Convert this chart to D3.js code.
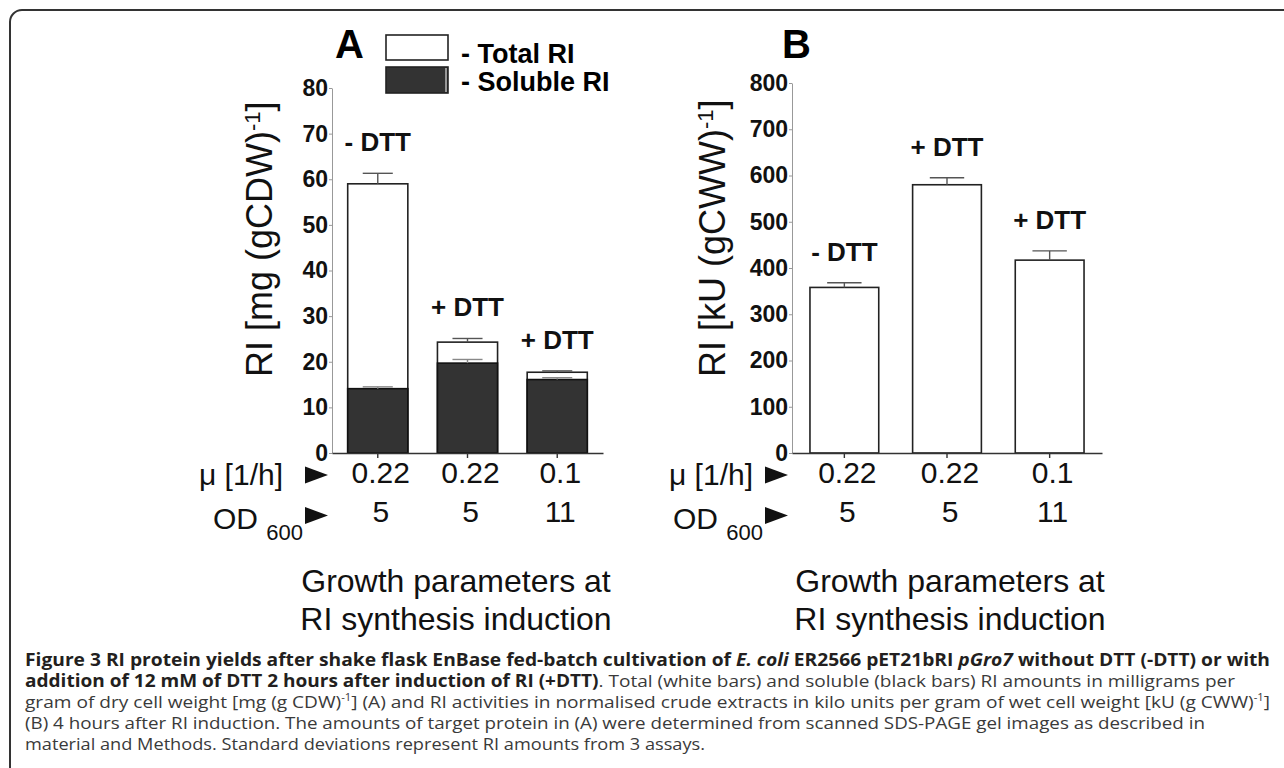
<!DOCTYPE html>
<meta charset="utf-8">
<head>
<style>
  body { margin: 0; background: #fff; }
  svg text { font-family: "Liberation Sans", Arial, sans-serif; }
  .cap { font-family: "Open Sans", sans-serif; font-size: 17px; }
</style>
</head>
<body>
<script src="https://d3js.org/d3.v7.min.js"></script>
<script>
  // data
  var muValues = ["0.22", "0.22", "0.1"];
  var odValues = ["5", "5", "11"];

  var dttA = ["- DTT", "+ DTT", "+ DTT"];
  var totalA = [59.0, 24.3, 17.7];
  var totalAErr = [2.3, 0.8, 0.3];
  var solubleA = [14.1, 19.7, 16.1];
  var solubleAErr = [0.4, 0.8, 0.4];
  var ticksA = [0, 10, 20, 30, 40, 50, 60, 70, 80];

  var dttB = ["- DTT", "+ DTT", "+ DTT"];
  var activityB = [358, 580, 417];
  var activityBErr = [10, 15, 20];
  var ticksB = [0, 100, 200, 300, 400, 500, 600, 700, 800];

  var dark = "#333";

  var svg = d3.select("body").append("svg")
    .attr("width", 1284)
    .attr("height", 768);

  // frame, rounded at top-left only
  svg.append("path")
    .attr("d", "M10,768 V22 A12,12 0 0 1 22,10 H1284")
    .attr("fill", "none")
    .attr("stroke", dark)
    .attr("stroke-width", 2);

  function drawPanel(p) {
    var x = d3.scaleBand().domain([0, 1, 2])
      .range([p.x0, p.x1]).paddingInner(0.33).paddingOuter(0.175);
    var y = d3.scaleLinear().domain([0, p.max]).range([453, p.yTop]);
    var g = svg.append("g");

    // y axis
    var ya = g.append("g").attr("transform", "translate(" + p.x0 + ",0)")
      .call(d3.axisLeft(y).tickValues(p.ticks).tickSize(3).tickPadding(1).tickSizeOuter(0));
    ya.select(".domain").attr("stroke", "#999");
    ya.selectAll(".tick line").attr("stroke", "#999");
    ya.selectAll("text")
      .style("font-size", "23px").style("font-weight", "bold").attr("fill", "#111");

    var bw = x.bandwidth();
    var idx = [0, 1, 2];

    // bars (total / white)
    g.selectAll(".tot").data(idx).enter().append("rect")
      .attr("x", function (i) { return x(i); })
      .attr("y", function (i) { return y(p.total[i]); })
      .attr("width", bw)
      .attr("height", function (i) { return y(0) - y(p.total[i]); })
      .attr("fill", "#fff").attr("stroke", "#222").attr("stroke-width", 1.6);

    function errBars(vals, errs, col) {
      idx.forEach(function (i) {
        var cx = x(i) + bw / 2, top = y(vals[i] + errs[i]);
        g.append("line").attr("x1", cx).attr("x2", cx)
          .attr("y1", y(vals[i])).attr("y2", top)
          .attr("stroke", col).attr("stroke-width", 1.4);
        g.append("line").attr("x1", cx - bw * 0.25).attr("x2", cx + bw * 0.25)
          .attr("y1", top).attr("y2", top)
          .attr("stroke", col).attr("stroke-width", 1.4);
      });
    }
    errBars(p.total, p.totalErr, "#555");

    if (p.soluble) {
      g.selectAll(".sol").data(idx).enter().append("rect")
        .attr("x", function (i) { return x(i); })
        .attr("y", function (i) { return y(p.soluble[i]); })
        .attr("width", bw)
        .attr("height", function (i) { return y(0) - y(p.soluble[i]); })
        .attr("fill", dark).attr("stroke", "#111").attr("stroke-width", 1.6);
      errBars(p.soluble, p.solubleErr, "#888");
    }

    // x axis
    var xa = g.append("g").attr("transform", "translate(0,453)")
      .call(d3.axisBottom(x).tickSize(5).tickSizeOuter(0).tickFormat(""));
    xa.select(".domain").attr("stroke", dark).attr("stroke-width", 1.6);
    xa.selectAll(".tick line").attr("stroke", dark).attr("stroke-width", 1.4);

    // DTT annotations
    g.selectAll(".dtt").data(idx).enter().append("text")
      .attr("x", function (i) { return x(i) + bw / 2; })
      .attr("y", function (i) { return y(p.total[i] + p.totalErr[i]) - 22; })
      .attr("text-anchor", "middle")
      .style("font-size", "26px").style("font-weight", "bold").attr("fill", "#111")
      .text(function (i) { return p.dtt[i]; });

    // panel letter
    g.append("text").attr("x", p.letterX).attr("y", 58)
      .style("font-size", "40px").style("font-weight", "bold")
      .text(p.letter);

    // y label
    var yl = g.append("text")
      .attr("transform", "translate(" + p.labelX + ",377) rotate(-90)")
      .style("font-size", "36px").attr("fill", "#111");
    yl.append("tspan").text(p.unit);
    yl.append("tspan").attr("baseline-shift", "super").style("font-size", "22px").text("-1");
    yl.append("tspan").text("]");

    // growth parameter rows
    g.selectAll(".mu").data(idx).enter().append("text")
      .attr("x", function (i) { return x(i) + bw / 2 + 3; })
      .attr("y", 483).attr("text-anchor", "middle")
      .style("font-size", "30px").attr("fill", "#111")
      .text(function (i) { return muValues[i]; });
    g.selectAll(".od").data(idx).enter().append("text")
      .attr("x", function (i) { return x(i) + bw / 2 + 3; })
      .attr("y", 522).attr("text-anchor", "middle")
      .style("font-size", "30px").attr("fill", "#111")
      .text(function (i) { return odValues[i]; });

    g.append("text").attr("x", p.muEnd).attr("y", 485).attr("text-anchor", "end")
      .style("font-size", "30px").attr("fill", "#111").text("\u03bc [1/h]");
    var od = g.append("text").attr("x", p.x0 - 119).attr("y", 529)
      .style("font-size", "30px").attr("fill", "#111");
    od.append("tspan").text("OD ");
    od.append("tspan").attr("dy", 11).style("font-size", "22px").text("600");

    [475, 515.5].forEach(function (cy) {
      g.append("path")
        .attr("d", "M" + (p.x0 - 27) + "," + (cy - 8.5) + "L" + (p.x0 - 4) + "," + cy +
          "L" + (p.x0 - 27) + "," + (cy + 8.5) + "Z")
        .attr("fill", "#111");
    });

    g.append("text").attr("x", p.cx).attr("y", 592).attr("text-anchor", "middle")
      .style("font-size", "32px").attr("fill", "#111").text("Growth parameters at");
    g.append("text").attr("x", p.cx).attr("y", 630).attr("text-anchor", "middle")
      .style("font-size", "32px").attr("fill", "#111").text("RI synthesis induction");
  }

  drawPanel({
    x0: 332, x1: 603, yTop: 88, max: 80, ticks: ticksA,
    total: totalA, totalErr: totalAErr, soluble: solubleA, solubleErr: solubleAErr,
    dtt: dttA, letter: "A", letterX: 335, labelX: 272, unit: "RI [mg (gCDW)",
    muEnd: 283, cx: 456
  });
  drawPanel({
    x0: 792, x1: 1102, yTop: 83, max: 800, ticks: ticksB,
    total: activityB, totalErr: activityBErr,
    dtt: dttB, letter: "B", letterX: 782, labelX: 725, unit: "RI [kU (gCWW)",
    muEnd: 753, cx: 950
  });

  // legend (panel A)
  var leg = svg.append("g");
  leg.append("rect").attr("x", 386).attr("y", 35).attr("width", 62).attr("height", 25)
    .attr("fill", "#fff").attr("stroke", "#222").attr("stroke-width", 1.6);
  leg.append("rect").attr("x", 386).attr("y", 67).attr("width", 62).attr("height", 26)
    .attr("fill", dark).attr("stroke", "#222").attr("stroke-width", 1.6);
  leg.append("line").attr("x1", 446).attr("x2", 446).attr("y1", 68).attr("y2", 92)
    .attr("stroke", "#fff").attr("stroke-width", 1);
  leg.append("text").attr("x", 461).attr("y", 63)
    .style("font-size", "27px").style("font-weight", "bold").text("- Total RI");
  leg.append("text").attr("x", 461).attr("y", 91)
    .style("font-size", "27px").style("font-weight", "bold").text("- Soluble RI");

  // caption
  var capLines = [
    { y: 666, w: 1245, parts: [
      ["b", "Figure 3 RI protein yields after shake flask EnBase fed-batch cultivation of "],
      ["bi", "E. coli"], ["b", " ER2566 pET21bRI "], ["bi", "pGro7"],
      ["b", " without DTT (-DTT) or with"]] },
    { y: 687, w: 1210, parts: [
      ["b", "addition of 12 mM of DTT 2 hours after induction of RI (+DTT)"],
      ["r", ". Total (white bars) and soluble (black bars) RI amounts in milligrams per"]] },
    { y: 708, w: 1245, parts: [
      ["r", "gram of dry cell weight [mg (g CDW)"], ["s", "-1"],
      ["r", "] (A) and RI activities in normalised crude extracts in kilo units per gram of wet cell weight [kU (g CWW)"],
      ["s", "-1"], ["r", "]"]] },
    { y: 729, w: 1180, parts: [
      ["r", "(B) 4 hours after RI induction. The amounts of target protein in (A) were determined from scanned SDS-PAGE gel images as described in"]] },
    { y: 750, w: 680, parts: [
      ["r", "material and Methods. Standard deviations represent RI amounts from 3 assays."]] }
  ];
  capLines.forEach(function (ln) {
    var t = svg.append("text").attr("class", "cap")
      .attr("x", 25).attr("y", ln.y)
      .attr("textLength", ln.w).attr("lengthAdjust", "spacingAndGlyphs");
    ln.parts.forEach(function (pt) {
      var s = t.append("tspan").text(pt[1]);
      if (pt[0] === "b" || pt[0] === "bi") s.style("font-weight", "bold").attr("fill", "#231f20");
      else s.attr("fill", "#3a3a3a");
      if (pt[0] === "bi") s.style("font-style", "italic");
      if (pt[0] === "s") s.attr("baseline-shift", "super").style("font-size", "10px");
    });
  });
</script>
</body>
</html>
